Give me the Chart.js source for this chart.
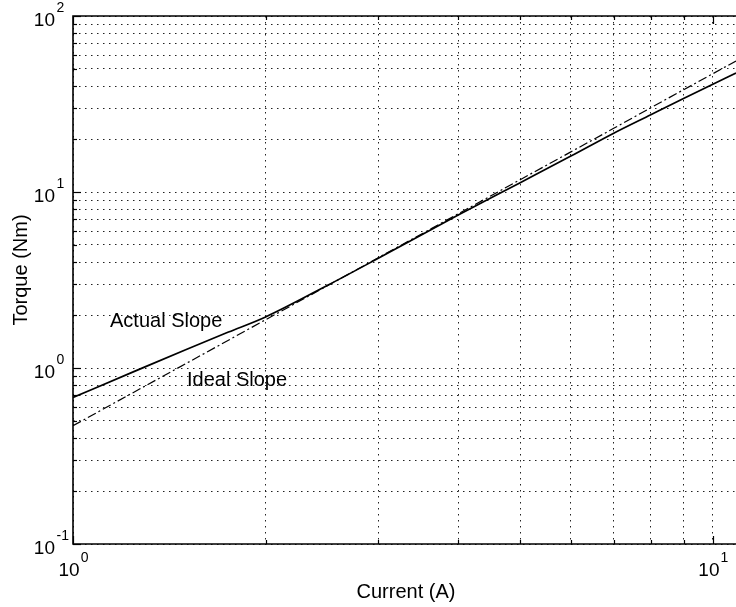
<!DOCTYPE html>
<html lang="en">

<head>
    <meta charset="UTF-8">
    <title>Torque vs Current</title>
    <script src="https://cdn.jsdelivr.net/npm/chart.js"></script>
    <style>
        html, body { margin: 0; padding: 0; background: #fff; }
        .chart-container { width: 736px; height: 607px; }
    </style>
</head>

<body>
    <div class="chart-container">
        <canvas id="torqueChart"></canvas>
    </div>

    <script>
        // Current (A) values
        const actualCurrent = [1, 1.25, 1.5, 1.75, 2, 2.5, 3, 4, 5, 6, 7, 8, 9, 10, 10.87];
        const actualTorque = [0.68, 0.96, 1.27, 1.6, 1.95, 2.95, 4.2, 7.4, 11.3, 16.0, 21.6, 27.5, 34.0, 41.0, 47.4];

        const idealCurrent = [1, 2, 3, 4, 5, 6, 7, 8, 9, 10, 10.87];
        const idealTorque = [0.47, 1.88, 4.23, 7.52, 11.75, 16.9, 23.0, 30.1, 38.1, 47.0, 55.5];

        // grid / tick positions
        const xGrid = [1, 2, 3, 4, 5, 6, 7, 8, 9, 10];
        const yGrid = [0.1, 0.2, 0.3, 0.4, 0.5, 0.6, 0.7, 0.8, 0.9,
            1, 2, 3, 4, 5, 6, 7, 8, 9,
            10, 20, 30, 40, 50, 60, 70, 80, 90, 100];
        const xMajor = [{ v: 1, exp: '0' }, { v: 10, exp: '1' }];
        const yMajor = [{ v: 0.1, exp: '-1' }, { v: 1, exp: '0' }, { v: 10, exp: '1' }, { v: 100, exp: '2' }];

        const FONT = '"Liberation Sans", Arial, Helvetica, sans-serif';

        function isMajor(v) {
            const l = Math.log10(v);
            return Math.abs(l - Math.round(l)) < 1e-6;
        }

        // draws inside tick marks, frame, labels with superscripts and annotations
        const decorations = {
            id: 'decorations',
            afterDraw(chart) {
                const c = chart.ctx;
                const a = chart.chartArea;
                const xs = chart.scales.x;
                const ys = chart.scales.y;
                c.save();
                c.setLineDash([]);
                c.strokeStyle = '#000';
                c.lineWidth = 1.6;

                // frame (left, bottom, top)
                c.beginPath();
                c.moveTo(a.right, a.top);
                c.lineTo(a.left, a.top);
                c.lineTo(a.left, a.bottom);
                c.lineTo(a.right, a.bottom);
                c.stroke();

                // tick marks pointing inward
                c.lineWidth = 1.2;
                xGrid.forEach(v => {
                    const px = Math.round(xs.getPixelForValue(v)) + 0.5;
                    const len = isMajor(v) ? 8 : 4;
                    c.beginPath();
                    c.moveTo(px, a.bottom);
                    c.lineTo(px, a.bottom - len);
                    c.moveTo(px, a.top);
                    c.lineTo(px, a.top + len);
                    c.stroke();
                });
                yGrid.forEach(v => {
                    const py = Math.round(ys.getPixelForValue(v)) + 0.5;
                    const len = isMajor(v) ? 8 : 4;
                    c.beginPath();
                    c.moveTo(a.left, py);
                    c.lineTo(a.left + len, py);
                    c.stroke();
                });

                c.fillStyle = '#000';
                c.textBaseline = 'alphabetic';

                // y tick labels: 10^n
                yMajor.forEach(t => {
                    const py = ys.getPixelForValue(t.v);
                    const right = a.left - 18;
                    c.font = '19px ' + FONT;
                    c.textAlign = 'right';
                    c.fillText('10', right, py + 9.5);
                    c.font = '14px ' + FONT;
                    c.textAlign = 'left';
                    c.fillText(t.exp, right + 1.5, py - 4);
                });

                // x tick labels: 10^n
                xMajor.forEach(t => {
                    const px = xs.getPixelForValue(t.v);
                    c.font = '19px ' + FONT;
                    const w10 = c.measureText('10').width;
                    c.font = '14px ' + FONT;
                    const wExp = c.measureText(t.exp).width;
                    const start = px - (w10 + wExp) / 2;
                    c.font = '19px ' + FONT;
                    c.textAlign = 'left';
                    c.fillText('10', start, a.bottom + 32);
                    c.font = '14px ' + FONT;
                    c.fillText(t.exp, start + w10 + 1, a.bottom + 18);
                });

                // axis titles
                c.font = '20px ' + FONT;
                c.textAlign = 'center';
                c.fillText('Current (A)', 406, a.bottom + 54);
                c.save();
                c.translate(27, 270);
                c.rotate(-Math.PI / 2);
                c.fillText('Torque (Nm)', 0, 0);
                c.restore();

                // annotations
                c.textAlign = 'left';
                c.fillText('Actual Slope', 110, 327);
                c.fillText('Ideal Slope', 187, 386);

                c.restore();
            }
        };

        const ctx = document.getElementById('torqueChart').getContext('2d');

        const dottedGrid = { color: '#222', lineWidth: 1, drawTicks: false };

        const chart = new Chart(ctx, {
            type: 'line',
            data: {
                datasets: [{
                    label: 'Actual Slope',
                    data: actualCurrent.map((x, i) => ({ x: x, y: actualTorque[i] })),
                    borderColor: '#000',
                    borderWidth: 1.7,
                    pointRadius: 0,
                    cubicInterpolationMode: 'monotone',
                    fill: false
                }, {
                    label: 'Ideal Slope',
                    data: idealCurrent.map((x, i) => ({ x: x, y: idealTorque[i] })),
                    borderColor: '#000',
                    borderWidth: 1.2,
                    borderDash: [9, 3, 2, 3],
                    pointRadius: 0,
                    fill: false
                }]
            },
            options: {
                responsive: true,
                maintainAspectRatio: false,
                animation: false,
                layout: {
                    padding: { left: 73, top: 16, right: 0, bottom: 63 }
                },
                scales: {
                    x: {
                        type: 'logarithmic',
                        min: 1,
                        max: 10.87,
                        afterBuildTicks: s => { s.ticks = xGrid.map(v => ({ value: v })); },
                        ticks: { display: false },
                        grid: dottedGrid,
                        border: { display: false, dash: [1.5, 4.5] }
                    },
                    y: {
                        type: 'logarithmic',
                        min: 0.1,
                        max: 100,
                        afterBuildTicks: s => { s.ticks = yGrid.map(v => ({ value: v })); },
                        ticks: { display: false },
                        grid: dottedGrid,
                        border: { display: false, dash: [1.5, 4.5] }
                    }
                },
                plugins: {
                    legend: { display: false },
                    tooltip: { enabled: false }
                }
            },
            plugins: [decorations]
        });
    </script>
</body>

</html>
